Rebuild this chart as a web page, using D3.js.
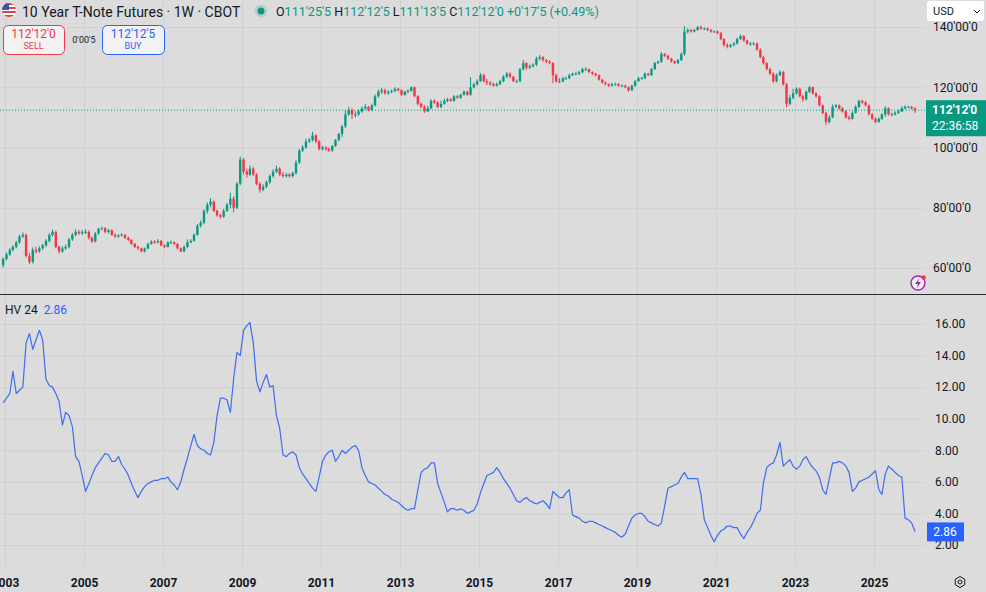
<!DOCTYPE html>
<html>
<head>
<meta charset="utf-8">
<title>10 Year T-Note Futures - 1W - CBOT</title>
<script src="https://cdn.jsdelivr.net/npm/d3@7"></script>
<style>
  body { margin: 0; background: #dcdcdc; }
  svg { display: block; font-family: Roboto, "Noto Sans", sans-serif; }
  .tick text { fill: #131722; }
  .grid line { stroke: #d0d0d0; }
  .grid text, .grid path { display: none; }
</style>
</head>
<body>
<svg id="chart" width="986" height="592"></svg>
<script>
// one bar per month, Dec 2002 .. Jan 2026 (open = previous close)
const startMonth = new Date(2002, 11, 1)
const endMonth = new Date(2026, 1, 1)
const firstOpen = 61

const close = [
  63,
  64.5, 66, 67, 68.5, 70.5, 71, 64, 62, 66, 65.5, 66.5, 67.5,
  69, 71, 72, 67, 65.5, 66.5, 67, 69.5, 71, 72, 71.5, 72,
  72, 70, 68.8, 71.5, 73, 73.2, 72, 72.5, 71, 70.5, 70.8, 71,
  70, 69.3, 68, 67, 66.5, 65.5, 66.5, 68, 68.8, 68.5, 69, 67.5,
  67, 68.5, 68.5, 68, 66.5, 65.5, 67, 68.5, 69, 71, 74, 75,
  79, 81, 82, 79, 77.5, 77, 79, 81, 83, 80, 88, 96,
  92, 91, 93, 91, 88, 86, 87, 88.5, 90.5, 92, 93, 91,
  90.5, 91, 90.5, 91.5, 95, 99, 100, 102, 102.5, 104, 102, 99.5,
  100, 99.5, 99, 100.5, 102.5, 104.5, 107, 111, 112.5, 111, 111, 112,
  113, 113.5, 112.5, 114, 117, 118.5, 119, 118, 118.5, 118.8, 119.5, 119,
  117.5, 118.5, 118.8, 120, 117, 114.5, 113.5, 112, 113, 115.5, 115, 113.5,
  114.5, 115.5, 116, 115.5, 117, 116.5, 117.5, 118.5, 117.5, 120, 121, 122,
  124, 122, 121.5, 121, 120.5, 121, 122, 123.5, 124.5, 123.5, 122, 122,
  126, 128, 126.5, 127, 127.5, 129.5, 130, 129, 128.5, 128, 124, 122,
  122, 123, 123, 124, 124.5, 124.5, 125, 126, 126, 125, 124.5, 124,
  122.5, 121.5, 121, 120.5, 121, 121, 120.5, 120.5, 120, 119, 120.5, 122,
  123, 123, 124.5, 124, 126, 128, 128.5, 131, 130.5, 129.5, 128.5, 128,
  129, 131, 138.5, 139, 138.5, 139, 140, 139.5, 139.5, 139, 138.5, 138.5,
  138, 136, 134, 133.5, 134, 134.5, 136, 137, 135.5, 134.5, 134.5, 134.5,
  132.5, 130, 128, 126, 124.5, 122, 124, 125, 121, 114.5, 116.5, 118,
  119.5, 117, 116, 118.5, 120, 118, 117, 114, 111.5, 108.5, 110, 113.5,
  114, 113, 112, 110, 109.5, 111.5, 113.5, 115.5, 115, 114, 111, 109.5,
  108.5, 109.5, 111, 113, 111, 111, 111.5, 112, 113, 113.5, 113.5, 113,
  112.375
]

const high = [
  63.5,
  65.2, 66.6, 67.6, 69, 71, 71.8, 71.4, 65, 66.8, 67, 67.2, 68,
  69.6, 71.6, 72.8, 72.4, 67.5, 67.3, 67.8, 70, 71.6, 72.8, 72.6, 72.6,
  72.8, 72.5, 70.5, 71.9, 73.4, 73.8, 73.6, 73, 72.8, 71.5, 71.2, 71.6,
  71.3, 70.4, 69.6, 68.3, 67.4, 66.8, 66.8, 68.4, 69.2, 69.2, 69.6, 69.3,
  67.8, 68.9, 69.2, 68.8, 68.3, 66.8, 67.5, 69.5, 69.6, 71.5, 74.6, 75.8,
  79.5, 81.8, 83.2, 82.4, 79.4, 78, 79.6, 81.6, 85, 83.8, 88.6, 97,
  96.5, 93, 94, 93.5, 91.5, 88.5, 87.8, 89, 91, 92.8, 94, 93.5,
  91.8, 91.6, 91.5, 92, 95.8, 99.5, 100.8, 103, 103.2, 105.2, 104.4, 102.5,
  100.5, 100.4, 100, 100.8, 102.8, 104.8, 107.5, 112.5, 113.5, 113, 112, 112.6,
  113.6, 114.4, 113.8, 114.5, 117.6, 119.2, 119.8, 119.5, 119, 119.2, 120, 119.8,
  119.3, 118.8, 119.3, 120.3, 120.2, 117.4, 115, 114, 113.8, 116, 116, 115.3,
  115.5, 116.2, 116.5, 116.4, 117.4, 117.4, 117.8, 119, 118.8, 123.4, 121.5, 122.6,
  124.7, 124.4, 122.8, 122, 121.5, 121.6, 122.5, 124, 125, 125, 123.8, 122.6,
  126.4, 129, 128.3, 127.6, 128, 130.2, 130.7, 130.3, 129.5, 129, 128.4, 124.5,
  123, 123.4, 123.6, 124.5, 124.9, 125.2, 125.4, 126.5, 126.7, 126.2, 125.3, 124.8,
  124.3, 122.8, 121.9, 121.3, 121.5, 121.5, 121.4, 121, 120.9, 120.3, 120.8, 122.4,
  123.5, 123.5, 124.9, 124.8, 126.4, 128.4, 128.9, 131.7, 131.4, 130.8, 129.8, 128.9,
  129.4, 131.6, 140.3, 139.6, 139.4, 139.4, 140.4, 140.5, 139.9, 139.8, 139.3, 138.9,
  138.9, 138.3, 136.3, 134.6, 134.4, 135, 136.5, 137.5, 137.3, 135.8, 135, 135,
  134.9, 132.9, 130.5, 128.3, 126.5, 125, 124.6, 125.7, 125.4, 121.5, 117.4, 119.5,
  120, 119.9, 117.5, 119, 120.4, 120.3, 118.4, 117.4, 114.3, 111.8, 110.8, 114.3,
  114.5, 114.3, 113.4, 112.3, 110.6, 112, 114, 115.8, 115.9, 115.4, 114.3, 111.4,
  110, 110, 111.4, 113.7, 113.3, 111.6, 112, 112.6, 113.6, 114, 113.9, 113.8,
  113.4
]

const low = [
  60.2,
  62.5, 64, 65.5, 66.5, 68, 70, 63.5, 61.3, 61.5, 64.8, 65, 66,
  67, 68.5, 70.5, 66.5, 64.8, 65, 66, 66.5, 69, 70.5, 71, 71,
  71.3, 69.5, 68.3, 68.5, 71, 72.5, 71.5, 71.5, 70.7, 70, 70, 70.5,
  69.6, 69, 67.6, 66.6, 66, 65.2, 65.2, 66.2, 67.7, 68, 68.2, 67.2,
  66.6, 66.8, 68, 67.6, 66.2, 65.2, 65.2, 66.5, 68.2, 68.7, 70.7, 73.5,
  74.5, 78, 80.2, 78.6, 77, 76.3, 76.6, 78.6, 79.8, 78.5, 79.5, 87.5,
  91, 90, 90.5, 90.5, 87.5, 85, 85.5, 86.5, 88, 90, 91.5, 90.5,
  90, 90, 90, 90, 91, 94.5, 98.5, 99.6, 101.5, 102, 101.5, 99,
  99, 99, 98.5, 98.6, 100.2, 102, 103.5, 106.5, 110.5, 109.5, 110, 110.5,
  111.5, 112.5, 112, 112, 113.6, 116.5, 117.8, 117.5, 117.5, 118, 118.3, 118.5,
  117.2, 117.2, 118, 118.5, 116.7, 114, 113, 111.5, 111.8, 112.7, 114.5, 113,
  113, 114.2, 115, 115.2, 115.2, 116.2, 116.2, 117.2, 117.2, 117.2, 119.6, 120.5,
  121.8, 121.6, 120.7, 120.5, 120.2, 120.2, 120.7, 121.7, 123, 123, 121.7, 121.5,
  121.7, 125.6, 125.8, 126, 126.6, 127, 129, 128.5, 128, 127.6, 121.4, 121.5,
  121.4, 121.6, 122.5, 122.7, 123.7, 124, 124, 124.6, 125.5, 124.7, 124, 123.6,
  122.2, 121.2, 120.6, 120.1, 120.2, 120.6, 120.2, 120.2, 119.7, 118.4, 118.8, 120.2,
  121.8, 122.6, 122.7, 123.7, 123.8, 125.7, 127.7, 128.1, 130, 129, 128.2, 127.7,
  127.7, 128.7, 130.5, 137.8, 138.1, 138.2, 138.7, 139.1, 139.1, 138.6, 138.1, 138.1,
  137.6, 135.6, 133.5, 132.9, 133.1, 133.6, 134.2, 135.7, 135.1, 134, 133.8, 134,
  132.1, 129.6, 127.5, 125.6, 124, 121.4, 121.6, 123.7, 120.5, 113.4, 114, 116,
  117.6, 116.6, 115.2, 115.6, 118.1, 117.5, 116.5, 113.6, 111, 107.4, 108, 109.7,
  113, 112.5, 111.6, 109.6, 109, 109.2, 111.2, 113.1, 114.5, 113.6, 110.6, 109.2,
  108, 108.2, 109.1, 110.2, 110.6, 110.4, 110.6, 111.1, 111.8, 112.6, 113, 112.6,
  111.5
]

// historical volatility, 24 periods
const hv = [
  11.0,
  11.3, 11.6, 13.0, 11.6, 11.8, 12.0, 14.8, 15.4, 14.4, 15.0, 15.6, 15.0,
  12.5, 12.1, 12.0, 11.6, 11.1, 9.6, 10.4, 10.2, 9.5, 7.6, 7.3, 6.4,
  5.4, 5.9, 6.4, 6.9, 7.2, 7.5, 7.8, 7.7, 7.3, 7.3, 7.6, 7.1,
  6.8, 6.4, 5.9, 5.4, 5.0, 5.4, 5.7, 5.9, 6.0, 6.1, 6.1, 6.2,
  6.2, 6.3, 6.0, 5.8, 5.5, 6.0, 6.8, 7.5, 8.3, 9.0, 8.3, 8.1,
  8.0, 7.8, 7.7, 8.5, 10.2, 11.3, 11.3, 11.2, 10.4, 12.5, 14.2, 14.0,
  15.6, 15.9, 16.1, 14.8, 12.4, 11.7, 12.3, 12.8, 12.0, 12.1, 10.2, 9.4,
  7.7, 7.6, 7.8, 7.9, 7.7, 6.9, 6.5, 6.2, 5.9, 5.6, 5.4, 6.3,
  7.3, 7.7, 7.9, 8.0, 7.3, 7.6, 8.0, 7.8, 8.0, 8.2, 8.3, 8.0,
  6.9, 6.4, 6.0, 5.9, 5.8, 5.6, 5.4, 5.2, 5.1, 4.9, 4.8, 4.7,
  4.5, 4.3, 4.2, 4.3, 4.3, 5.5, 6.6, 6.8, 6.9, 7.2, 7.2, 5.9,
  5.3, 4.7, 4.1, 4.3, 4.3, 4.2, 4.3, 4.2, 4.0, 4.1, 4.2, 4.6,
  5.3, 5.9, 6.4, 6.5, 6.6, 6.9, 6.6, 6.2, 5.9, 5.6, 5.2, 4.8,
  4.7, 4.9, 5.0, 4.8, 4.7, 4.6, 4.7, 4.8, 4.6, 4.3, 5.4, 5.2,
  5.0, 5.0, 5.3, 5.5, 3.9, 3.8, 3.7, 3.5, 3.4, 3.5, 3.5, 3.4,
  3.3, 3.2, 3.1, 3.0, 2.9, 2.8, 2.6, 2.5, 2.7, 3.2, 3.7, 3.9,
  4.0, 4.0, 3.8, 3.5, 3.4, 3.3, 3.2, 3.4, 4.5, 5.6, 5.7, 5.8,
  5.9, 6.3, 6.6, 6.2, 6.2, 6.2, 6.2, 5.2, 3.6, 3.1, 2.6, 2.2,
  2.6, 2.9, 3.0, 3.2, 3.2, 3.1, 3.1, 2.7, 2.4, 2.8, 3.1, 3.5,
  4.0, 4.2, 5.9, 6.9, 7.1, 7.2, 7.7, 8.5, 7.0, 7.2, 7.4, 7.0,
  6.8, 7.0, 7.4, 7.6, 7.2, 6.9, 6.7, 6.3, 5.5, 5.2, 6.2, 7.2,
  7.2, 7.3, 7.2, 7.0, 6.6, 5.4, 5.6, 6.0, 6.1, 6.2, 6.3, 6.5,
  6.7, 5.5, 5.2, 6.5, 7.0, 6.8, 6.6, 6.4, 6.3, 3.7, 3.6, 3.4,
  2.86
]

const priceTicks = [60, 80, 100, 120, 140]
const priceTickLabels = ["60'00'0", "80'00'0", "100'00'0", "120'00'0", "140'00'0"]
const hvTicks = [2, 4, 6, 8, 10, 12, 14, 16]
const yearTicks = [2003, 2005, 2007, 2009, 2011, 2013, 2015, 2017, 2019, 2021, 2023, 2025]

const lastPrice = 112.375
const lastPriceLabel = "112'12'0"
const countdown = "22:36:58"
const ohlc = [["O", "111'25'5"], ["H", "112'12'5"], ["L", "111'13'5"], ["C", "112'12'0"]]
const change = "+0'17'5 (+0.49%)"
const sellPrice = "112'12'0", buyPrice = "112'12'5", spread = "0'00'5"

const UP = '#089981', DOWN = '#f23645', BLUE = '#2962ff', INK = '#131722'

const W = 986, H = 592, plotR = 925
const topH = 294, hvTop = 295, hvBottom = 566

const months = d3.timeMonth.range(startMonth, endMonth)
const bars = months.map((m, i) => ({
  date: new Date(m.getFullYear(), m.getMonth(), 15),
  o: i ? close[i - 1] : firstOpen,
  h: high[i], l: low[i], c: close[i], hv: hv[i]
}))

const x = d3.scaleTime()
  .domain([new Date(2003, 0, 1), new Date(2025, 0, 1)])
  .range([5, 874])
const yP = d3.scaleLinear().domain([60, 140]).range([268, 27])
const yH = d3.scaleLinear().domain([2, 16]).range([545, 324])

const svg = d3.select('#chart')

const defs = svg.append('defs')
defs.append('clipPath').attr('id', 'clipTop')
  .append('rect').attr('x', 0).attr('y', 0).attr('width', plotR).attr('height', topH)
defs.append('clipPath').attr('id', 'clipHv')
  .append('rect').attr('x', 0).attr('y', hvTop).attr('width', plotR).attr('height', hvBottom - hvTop)
defs.append('clipPath').attr('id', 'flagClip')
  .append('circle').attr('cx', 9).attr('cy', 10).attr('r', 7)

// grid
const yearDates = yearTicks.map(y => new Date(y, 0, 1))
svg.append('g').attr('class', 'grid')
  .attr('transform', `translate(0,${topH})`)
  .call(d3.axisBottom(x).tickValues(yearDates).tickSize(-topH).tickFormat(''))
svg.append('g').attr('class', 'grid')
  .attr('transform', `translate(0,${hvBottom})`)
  .call(d3.axisBottom(x).tickValues(yearDates).tickSize(-(hvBottom - hvTop)).tickFormat(''))
svg.append('g').attr('class', 'grid')
  .attr('transform', `translate(${plotR},0)`)
  .call(d3.axisRight(yP).tickValues(priceTicks).tickSize(-plotR).tickFormat(''))
svg.append('g').attr('class', 'grid')
  .attr('transform', `translate(${plotR},0)`)
  .call(d3.axisRight(yH).tickValues(hvTicks).tickSize(-plotR).tickFormat(''))

// candles
const candles = svg.append('g').attr('clip-path', 'url(#clipTop)')
  .selectAll('g').data(bars).join('g')
  .attr('stroke', d => d.c >= d.o ? UP : DOWN)
  .attr('fill', d => d.c >= d.o ? UP : DOWN)
candles.append('line')
  .attr('x1', d => x(d.date)).attr('x2', d => x(d.date))
  .attr('y1', d => yP(d.h)).attr('y2', d => yP(d.l))
  .attr('stroke-width', 1)
candles.append('rect')
  .attr('x', d => x(d.date) - 1.2).attr('width', 2.4)
  .attr('y', d => yP(Math.max(d.o, d.c)))
  .attr('height', d => Math.max(1, Math.abs(yP(d.o) - yP(d.c))))
  .attr('stroke', 'none')

// last price line
svg.append('line')
  .attr('x1', 0).attr('x2', plotR)
  .attr('y1', yP(lastPrice)).attr('y2', yP(lastPrice))
  .attr('stroke', UP).attr('stroke-dasharray', '1,2')

// hv line
svg.append('path').datum(bars)
  .attr('clip-path', 'url(#clipHv)')
  .attr('fill', 'none').attr('stroke', '#3d6df0').attr('stroke-width', 1.2)
  .attr('stroke-linejoin', 'round')
  .attr('d', d3.line().x(d => x(d.date)).y(d => yH(d.hv)))

// pane separator
svg.append('line').attr('x1', 0).attr('x2', W).attr('y1', topH + 0.5).attr('y2', topH + 0.5)
  .attr('stroke', '#2a2e39')

// right axes
const pAxis = svg.append('g').attr('transform', `translate(${plotR},0)`)
  .call(d3.axisRight(yP).tickValues(priceTicks).tickSize(0).tickPadding(8)
    .tickFormat((d, i) => priceTickLabels[i]))
const hAxis = svg.append('g').attr('transform', `translate(${plotR},0)`)
  .call(d3.axisRight(yH).tickValues(hvTicks).tickSize(0).tickPadding(10)
    .tickFormat(d3.format('.2f')))
const tAxis = svg.append('g').attr('transform', `translate(0,${hvBottom + 6})`)
  .call(d3.axisBottom(x).tickValues(yearDates).tickSize(0).tickPadding(6)
    .tickFormat(d3.timeFormat('%Y')))
;[pAxis, hAxis, tAxis].forEach(a => {
  a.select('.domain').remove()
  a.selectAll('text').attr('font-size', 12).attr('font-family', 'Roboto, sans-serif')
})
tAxis.selectAll('text').attr('font-weight', 'bold')

// price label
const py = yP(lastPrice)
svg.append('rect').attr('x', plotR + 1).attr('y', py - 10).attr('width', W - plotR - 1).attr('height', 36)
  .attr('fill', UP)
svg.append('text').attr('x', plotR + 7).attr('y', py + 4).attr('fill', '#fff')
  .attr('font-size', 12).attr('font-weight', 'bold').text(lastPriceLabel)
svg.append('text').attr('x', plotR + 7).attr('y', py + 20).attr('fill', '#fff')
  .attr('font-size', 12).text(countdown)

// hv label
const hy = yH(hv[hv.length - 1])
svg.append('rect').attr('x', plotR + 2).attr('y', hy - 9).attr('width', 37).attr('height', 19)
  .attr('fill', BLUE)
svg.append('text').attr('x', plotR + 20).attr('y', hy + 5).attr('text-anchor', 'middle')
  .attr('fill', '#fff').attr('font-size', 12).text(d3.format('.2f')(hv[hv.length - 1]))

// USD currency box
svg.append('rect').attr('x', 927).attr('y', 1).attr('width', 57).attr('height', 20).attr('rx', 2)
  .attr('fill', '#fff')
svg.append('text').attr('x', 933).attr('y', 15).attr('font-size', 11).attr('fill', INK).text('USD')
svg.append('path').attr('d', 'M974,10 l3,3 l3,-3').attr('fill', 'none').attr('stroke', INK)

// header
const flag = svg.append('g').attr('clip-path', 'url(#flagClip)')
d3.range(7).forEach(i => {
  flag.append('rect').attr('x', 2).attr('y', 3 + i * 2).attr('width', 14).attr('height', 2)
    .attr('fill', i % 2 ? '#fff' : '#d9434e')
})
flag.append('rect').attr('x', 2).attr('y', 3).attr('width', 7).attr('height', 7).attr('fill', '#3a57a7')
svg.append('text').attr('x', 22).attr('y', 17).attr('font-size', 14).attr('fill', INK)
  .text('10 Year T-Note Futures · 1W · CBOT')
svg.append('circle').attr('cx', 261).attr('cy', 11).attr('r', 6.5).attr('fill', UP).attr('opacity', 0.18)
svg.append('circle').attr('cx', 261).attr('cy', 11).attr('r', 3.5).attr('fill', UP)
const ohlcText = svg.append('text').attr('x', 276).attr('y', 16).attr('font-size', 12.5)
ohlc.forEach(([k, v], i) => {
  ohlcText.append('tspan').attr('fill', INK).text((i ? ' ' : '') + k)
  ohlcText.append('tspan').attr('fill', UP).text(v)
})
ohlcText.append('tspan').attr('fill', UP).text(' ' + change)

// sell / buy buttons
const btn = (x0, w, col, price, label) => {
  svg.append('rect').attr('x', x0 + 0.5).attr('y', 25.5).attr('width', w).attr('height', 29).attr('rx', 5)
    .attr('fill', '#f2f2f2').attr('stroke', col)
  svg.append('text').attr('x', x0 + w / 2).attr('y', 38).attr('text-anchor', 'middle')
    .attr('font-size', 12).attr('fill', col).text(price)
  svg.append('text').attr('x', x0 + w / 2).attr('y', 49).attr('text-anchor', 'middle')
    .attr('font-size', 9).attr('fill', col).text(label)
}
btn(3, 61, DOWN, sellPrice, 'SELL')
btn(102, 62, BLUE, buyPrice, 'BUY')
svg.append('text').attr('x', 84).attr('y', 43).attr('text-anchor', 'middle')
  .attr('font-size', 9).attr('fill', INK).text(spread)

// hv legend
const hvLeg = svg.append('text').attr('x', 5).attr('y', 314).attr('font-size', 12)
hvLeg.append('tspan').attr('fill', INK).text('HV 24')
hvLeg.append('tspan').attr('fill', BLUE).attr('dx', 6).text(d3.format('.2f')(hv[hv.length - 1]))

// lightning badge
svg.append('circle').attr('cx', 918).attr('cy', 283).attr('r', 7)
  .attr('fill', '#f4eef6').attr('stroke', '#9c27b0').attr('stroke-width', 1.4)
svg.append('path').attr('d', 'M919.5,278 L915,284 L918,284 L916.5,288.5 L921,282 L918,282 Z')
  .attr('fill', '#9c27b0')
svg.append('circle').attr('cx', 923.5).attr('cy', 277.5).attr('r', 2.3).attr('fill', DOWN)

// settings gear
const hex = d3.range(6).map(i => {
  const a = Math.PI / 3 * i + Math.PI / 6
  return [960 + 5.5 * Math.cos(a), 582 + 5.5 * Math.sin(a)]
})
svg.append('path').attr('d', 'M' + hex.join('L') + 'Z').attr('fill', 'none').attr('stroke', INK)
svg.append('circle').attr('cx', 960).attr('cy', 582).attr('r', 2).attr('fill', 'none').attr('stroke', INK)
</script>
</body>
</html>
